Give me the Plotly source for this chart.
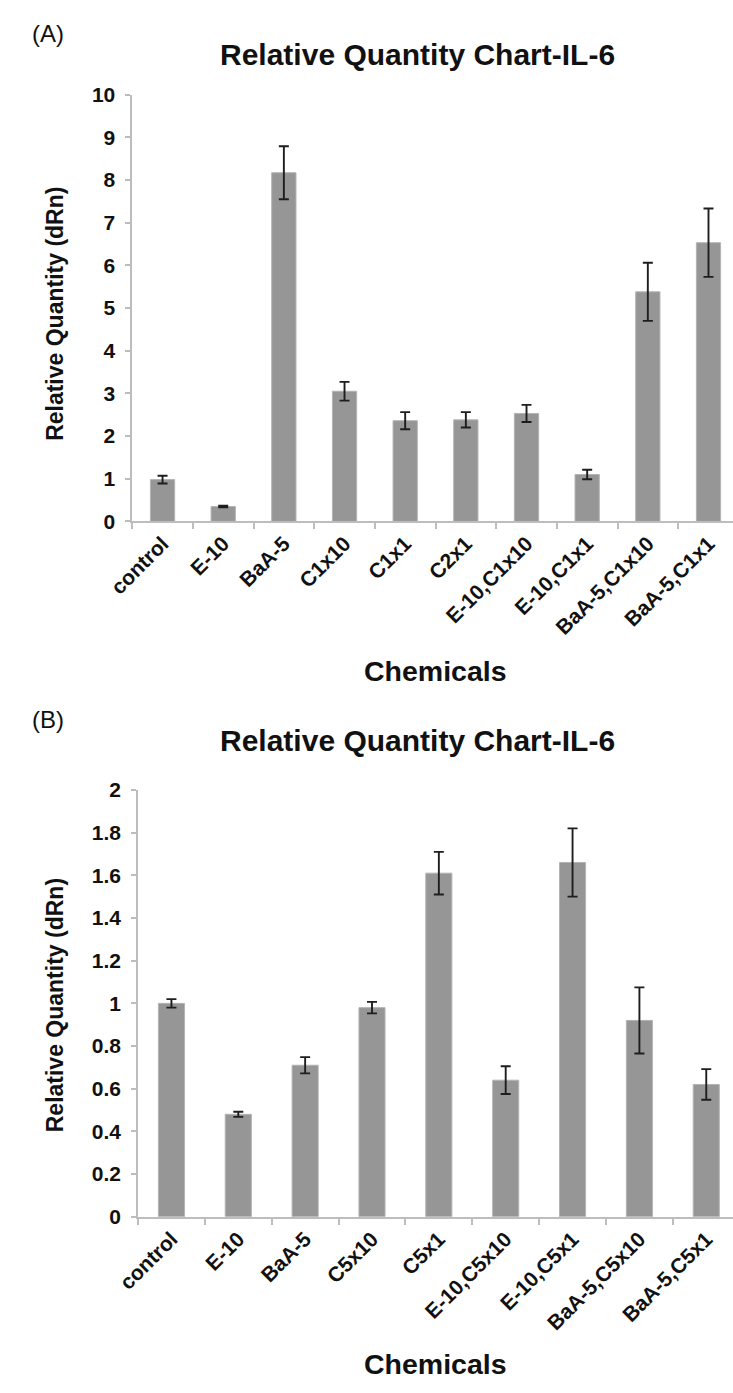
import plotly.graph_objects as go

W, H = 733, 1393

# ---- Data (A) ----
cats_a = ["control", "E-10", "BaA-5", "C1x10", "C1x1", "C2x1",
          "E-10,C1x10", "E-10,C1x1", "BaA-5,C1x10", "BaA-5,C1x1"]
vals_a = [0.98, 0.35, 8.17, 3.05, 2.36, 2.38, 2.53, 1.10, 5.38, 6.53]
errs_a = [0.09, 0.02, 0.62, 0.22, 0.20, 0.18, 0.20, 0.11, 0.68, 0.80]

# ---- Data (B) ----
cats_b = ["control", "E-10", "BaA-5", "C5x10", "C5x1",
          "E-10,C5x10", "E-10,C5x1", "BaA-5,C5x10", "BaA-5,C5x1"]
vals_b = [1.00, 0.48, 0.71, 0.98, 1.61, 0.64, 1.66, 0.92, 0.62]
errs_b = [0.02, 0.012, 0.038, 0.027, 0.10, 0.065, 0.16, 0.155, 0.072]

title_text = "Relative Quantity Chart-IL-6"
ytitle_text = "Relative Quantity (dRn)"
xtitle_text = "Chemicals"

FONT = "Liberation Sans"
BAR = "#969696"
AXIS = "#bdbdbd"


def px(x):
    return x / W


def py(y):
    return 1 - y / H


fig = go.Figure()
fig.add_trace(go.Bar(
    x=cats_a, y=vals_a, xaxis="x", yaxis="y", width=0.4,
    marker=dict(color=BAR, line=dict(color="#b3b3b3", width=1)),
    error_y=dict(type="data", array=errs_a, visible=True,
                 color="#1e1e1e", thickness=1.9, width=5),
    showlegend=False))
fig.add_trace(go.Bar(
    x=cats_b, y=vals_b, xaxis="x2", yaxis="y2", width=0.39,
    marker=dict(color=BAR, line=dict(color="#b3b3b3", width=1)),
    error_y=dict(type="data", array=errs_b, visible=True,
                 color="#1e1e1e", thickness=1.9, width=5),
    showlegend=False))

xtickfont = dict(family=FONT, size=21, color="#111", weight="bold")
ytickfont = dict(family=FONT, size=21, color="#111", weight="bold")
common_x = dict(showline=True, linecolor=AXIS, linewidth=1.5,
                ticks="outside", ticklen=6, tickcolor=AXIS, tickwidth=1.5,
                tickson="boundaries", tickangle=-45, tickfont=xtickfont,
                showgrid=False, zeroline=False, fixedrange=True)
common_y = dict(showline=True, linecolor=AXIS, linewidth=1.5,
                ticks="outside", ticklen=5, tickcolor=AXIS, tickwidth=1.5,
                tickfont=ytickfont, showgrid=False, zeroline=False,
                ticklabelstandoff=6, fixedrange=True)

fig.update_layout(
    width=W, height=H,
    margin=dict(l=0, r=0, t=0, b=0),
    paper_bgcolor="white", plot_bgcolor="white",
    xaxis=dict(domain=[px(111), 1], anchor="y",
               range=[-0.5, 9.404], **common_x),
    yaxis=dict(domain=[py(518), py(84)], anchor="x",
               range=[0, 10], dtick=1, **common_y),
    xaxis2=dict(domain=[px(117), 1], anchor="y2",
                range=[-0.5, 8.40], **common_x),
    yaxis2=dict(domain=[py(1225), py(791)], anchor="x2",
                range=[0, 2], dtick=0.2, **common_y),
)

ann = []
for lab, yy in (("(A)", 22), ("(B)", 719)):
    ann.append(dict(text=lab, x=px(24), y=py(yy), xref="paper", yref="paper",
                    showarrow=False, xanchor="center", yanchor="middle",
                    font=dict(family=FONT, size=24, color="#111")))
for yy in (43, 741):
    ann.append(dict(text=title_text, x=px(406), y=py(yy), xref="paper",
                    yref="paper", showarrow=False, xanchor="center",
                    yanchor="middle",
                    font=dict(family=FONT, size=30, color="#111",
                              weight="bold")))
for yy in (307, 1010):
    ann.append(dict(text=ytitle_text, x=px(31), y=py(yy), xref="paper",
                    yref="paper", showarrow=False, xanchor="center",
                    yanchor="middle", textangle=-90,
                    font=dict(family=FONT, size=23, color="#111",
                              weight="bold")))
for yy in (670, 1375):
    ann.append(dict(text=xtitle_text, x=px(425), y=py(yy), xref="paper",
                    yref="paper", showarrow=False, xanchor="center",
                    yanchor="middle",
                    font=dict(family=FONT, size=28.5, color="#111",
                              weight="bold")))
fig.update_layout(annotations=ann)

fig.write_html("out.html",
               config={"displayModeBar": False},
               post_script="document.body.style.margin='0px';"
                           "document.body.style.overflow='hidden';")
